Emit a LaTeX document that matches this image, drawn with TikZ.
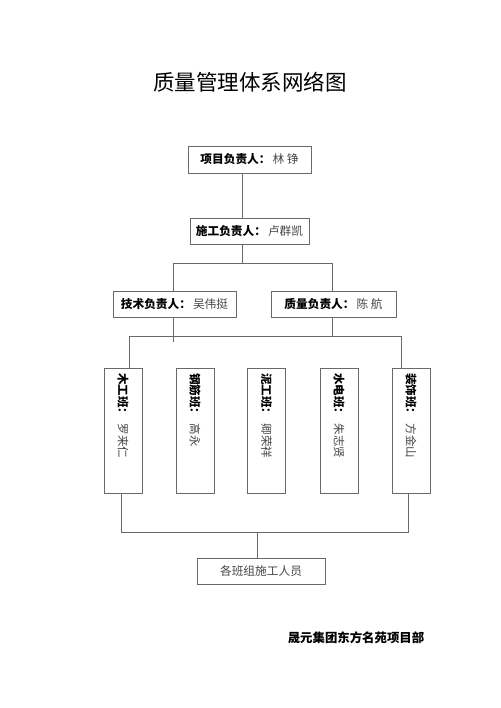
\documentclass[tikz,border=0pt]{standalone}
\usepackage{fontspec}
\newfontfamily\cjk{Noto Sans CJK SC}
\definecolor{lineGray}{RGB}{105,105,105}
\definecolor{nameGray}{RGB}{70,70,70}
\tikzset{
  box/.style={draw=lineGray, line width=0.9pt, inner sep=0pt, font=\cjk\fontsize{11.7}{13}\selectfont},
  crewbox/.style={box, minimum width=38pt, minimum height=125pt},
  link/.style={draw=lineGray, line width=0.9pt}
}
\newcommand{\lbl}[2]{{\bfseries #1}\,{\color{nameGray}#2}}
\begin{document}
\begin{tikzpicture}[x=1pt,y=-1pt]
  \useasboundingbox[fill=white] (0,0) rectangle (500,708);
  \node[font=\cjk\fontsize{21.5}{24}\selectfont] (title) at (250,82) {质量管理体系网络图};
  \node[box, minimum width=123pt, minimum height=27pt] (pm) at (249.5,159.5) {\lbl{项目负责人：}{林\ 铮}};
  \node[box, minimum width=119pt, minimum height=26pt] (cm) at (249.5,231) {\lbl{施工负责人：}{卢群凯}};
  \node[box, minimum width=123pt, minimum height=26pt] (tech) at (174.5,304) {\lbl{技术负责人：}{吴伟挺}};
  \node[box, minimum width=125pt, minimum height=26pt] (qual) at (333.5,304) {\lbl{质量负责人：}{陈\ 航}};
  \foreach \x/\n/\team/\who in {123/1/木工班：/罗来仁, 195/2/钢筋班：/高永, 266.5/3/泥工班：/卿荣祥, 339/4/水电班：/朱志贤, 411/5/装饰班：/方金山}{
    \node[crewbox] (w\n) at (\x,430.5) {};
    \node[rotate=-90, anchor=west, inner sep=0pt, font=\cjk\fontsize{11.5}{13}\selectfont] (t\n) at (\x,373) {\lbl{\team}{\ \who}};
  }
  \node[box, minimum width=128pt, minimum height=26pt] (crew) at (261,571) {{\color{nameGray}各班组施工人员}};
  \node[font=\cjk\bfseries\fontsize{12.4}{14}\selectfont] (org) at (356,638) {晟元集团东方名苑项目部};
  \coordinate (t1) at (242,263);
  \coordinate (tl) at (173,263);
  \coordinate (tr) at (332,263);
  \coordinate (s1) at (173,342);
  \coordinate (q1) at (332,336);
  \coordinate (bl) at (129,336);
  \coordinate (br) at (401,336);
  \coordinate (cl) at (121,532);
  \coordinate (cr) at (408,532);
  \coordinate (cc) at (257,532);
  \draw[link] (pm.south -| t1) -- (cm.north -| t1);
  \draw[link] (cm.south -| t1) -- (t1);
  \draw[link] (tech.north -| tl) -- (tl) -- (tr) -- (qual.north -| tr);
  \draw[link] (tech.south -| s1) -- (s1);
  \draw[link] (qual.south -| q1) -- (q1);
  \draw[link] (w1.north -| bl) -- (bl) -- (br) -- (w5.north -| br);
  \draw[link] (w1.south -| cl) -- (cl) -- (cr) -- (w5.south -| cr);
  \draw[link] (cc) -- (crew.north -| cc);
\end{tikzpicture}
\end{document}
